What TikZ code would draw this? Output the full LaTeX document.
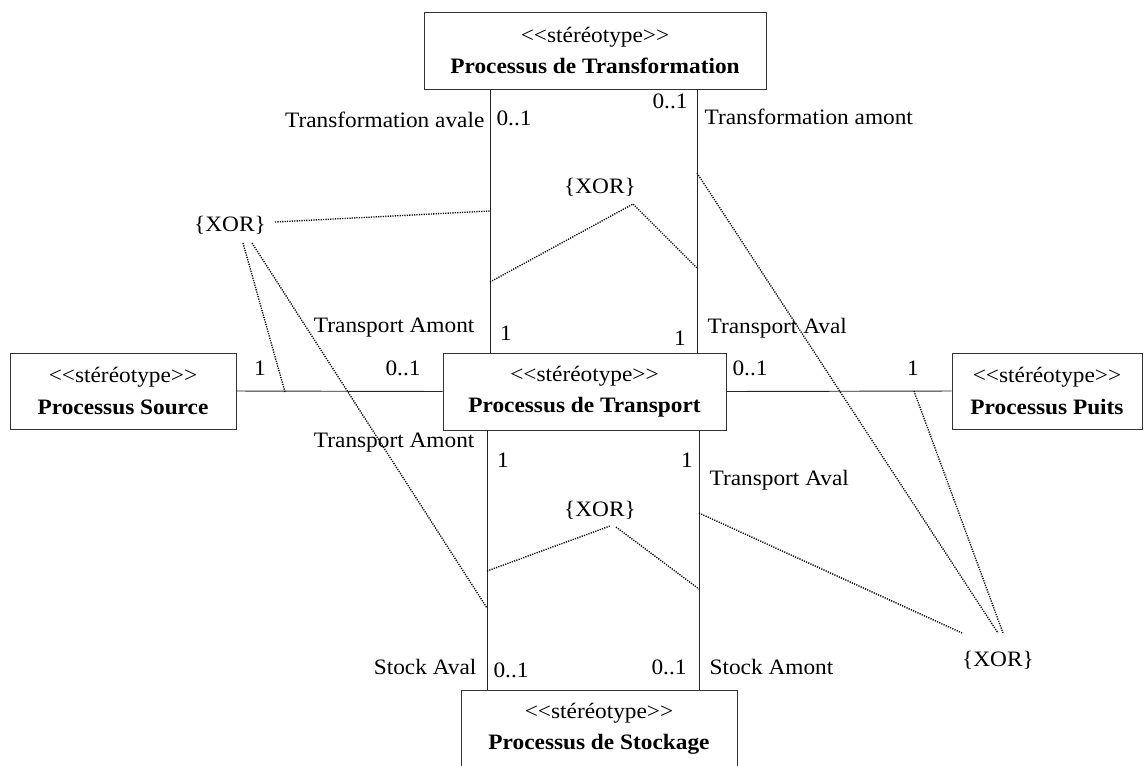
\documentclass[tikz,border=0pt]{standalone}
\usepackage{fontspec}
\setmainfont{Liberation Serif}[FakeStretch=1.06]
\usetikzlibrary{positioning,calc}

\newcommand{\stereo}{<\kern0pt<stéréotype>\kern0pt>}

\begin{document}
\begin{tikzpicture}[
    x=0.75pt, y=-0.75pt,
    font=\fontsize{16.5}{23.5}\selectfont,
    classe/.style={rectangle, draw=black!80, line width=0.7pt, align=center, inner sep=0pt},
    assoc/.style={draw=black!85, line width=0.7pt},
    xorline/.style={line width=1pt, dash pattern=on 0.9pt off 0.9pt},
    role/.style={inner sep=1pt}
]
\useasboundingbox (0,0) rectangle (1148,765);

% Classes
\node[classe, minimum width=256.5pt, minimum height=57.75pt] (trans) at (595,50.5) {\stereo\\\textbf{Processus de Transformation}};
\node[classe, minimum width=169.5pt, minimum height=57pt] (source) at (123,391) {\stereo\\\textbf{Processus Source}};
\node[classe, minimum width=212.25pt, minimum height=57.75pt] (transport) at (584.5,391.5) {\stereo\\\textbf{Processus de Transport}};
\node[classe, minimum width=142.5pt, minimum height=57pt] (puits) at (1047,391) {\stereo\\\textbf{Processus Puits}};
\node[classe, minimum width=207pt, minimum height=57.75pt] (stock) at (599,728.5) {\stereo\\\textbf{Processus de Stockage}};

% Associations
\coordinate (xl) at (490,0);
\coordinate (xr) at (697,0);
\coordinate (bl) at (487,0);
\coordinate (br) at (699,0);
\draw[assoc] (trans.south -| xl) -- (transport.north -| xl);
\draw[assoc] (trans.south -| xr) -- (transport.north -| xr);
\draw[assoc] (transport.south -| bl) -- (stock.north -| bl);
\draw[assoc] (transport.south -| br) -- (stock.north -| br);
\draw[assoc] (source.east) -- (transport.west);
\draw[assoc] (transport.east) -- (puits.west);

% Roles et multiplicites
\node[role, anchor=east] (ravale) at (486,120) {Transformation avale};
\node[role] (m1) at (514,118) {0..1};
\node[role] (m2) at (670,101) {0..1};
\node[role, anchor=west] (ramont) at (703,117) {Transformation amont};
\node[role, anchor=east] (rtamont) at (476,328) {Transport Amont};
\node[role] (m3) at (506,333) {1};
\node[role] (m4) at (680,338) {1};
\node[role, anchor=west] (rtaval) at (706,328) {Transport Aval};
\node[role] (m5) at (260,368) {1};
\node[role] (m6) at (403,368) {0..1};
\node[role] (m7) at (750,368) {0..1};
\node[role] (m8) at (913,368) {1};
\node[role, anchor=east] (rbamont) at (476,443) {Transport Amont};
\node[role] (m9) at (503,460) {1};
\node[role] (m10) at (687,460) {1};
\node[role, anchor=west] (rbaval) at (708,480) {Transport Aval};
\node[role, anchor=east] (rsaval) at (478,667) {Stock Aval};
\node[role] (m11) at (511,670) {0..1};
\node[role] (m12) at (669,667) {0..1};
\node[role, anchor=west] (rsamont) at (708,667) {Stock Amont};

% Contraintes XOR
\node[role] (xorleft) at (230,225) {\{XOR\}};
\node[role] (xortop) at (600,187) {\{XOR\}};
\node[role] (xorbot) at (600,510) {\{XOR\}};
\node[role] (xorright) at (998,660) {\{XOR\}};

\coordinate (l1) at (275,222);  \coordinate (l2) at (490,211);
\coordinate (t1) at (490,282);  \coordinate (t2) at (633,204);  \coordinate (t3) at (697,268);
\coordinate (r1) at (697,173);  \coordinate (r2) at (998,633);
\coordinate (l3) at (243,243);  \coordinate (l4) at (285,392);
\coordinate (l5) at (252,243);  \coordinate (l6) at (487,608);
\coordinate (b1) at (487,571);  \coordinate (b2) at (610,526);
\coordinate (b3) at (616,527);  \coordinate (b4) at (699,589);
\coordinate (r3) at (699,513);  \coordinate (r4) at (962,633);
\coordinate (r5) at (914,391);  \coordinate (r6) at (1003,633);

\draw[xorline] (l1) -- (l2);
\draw[xorline] (t1) -- (t2) -- (t3);
\draw[xorline] (r1) -- (r2);
\draw[xorline] (l3) -- (l4);
\draw[xorline] (l5) -- (l6);
\draw[xorline] (b1) -- (b2);
\draw[xorline] (b3) -- (b4);
\draw[xorline] (r3) -- (r4);
\draw[xorline] (r5) -- (r6);

\end{tikzpicture}
\end{document}
